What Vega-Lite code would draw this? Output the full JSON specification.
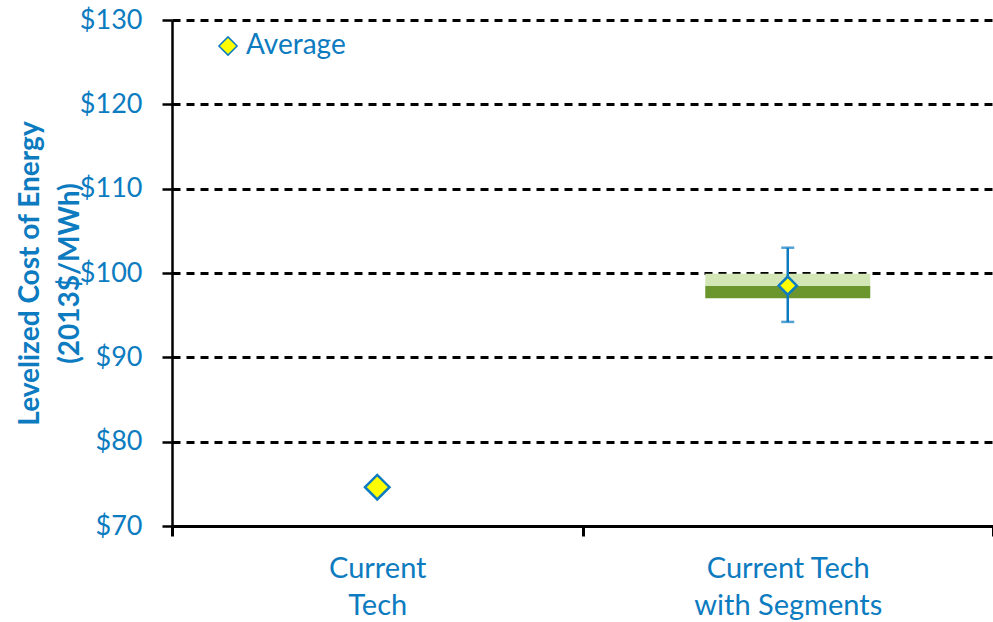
{
  "$schema": "https://vega.github.io/schema/vega-lite/v6.json",
  "width": 821,
  "height": 506,
  "autosize": {"type": "none"},
  "padding": {"left": 172, "top": 20, "right": 0, "bottom": 96},
  "background": "white",
  "config": {
    "view": {"stroke": null},
    "font": "Lato",
    "axis": {"labelFont": "Lato", "titleFont": "Lato"},
    "legend": {"labelFont": "Lato"}
  },
  "datasets": {
    "avg": [
      {"tech": "Current Tech", "value": 74.6, "series": "Average"},
      {"tech": "Current Tech with Segments", "value": 98.5, "series": "Average"}
    ],
    "box": [
      {"tech": "Current Tech with Segments", "low": 97.0, "mid": 98.45, "high": 99.9, "errLow": 94.2, "errHigh": 103.0}
    ]
  },
  "layer": [
    {
      "data": {"name": "box"},
      "mark": {"type": "bar", "color": "#d3e6b5", "width": 165},
      "encoding": {
        "x": {
          "field": "tech", "type": "nominal",
          "scale": {"domain": ["Current Tech", "Current Tech with Segments"], "paddingInner": 0, "paddingOuter": 0},
          "axis": {
            "title": null,
            "labelAngle": 0,
            "labelFontSize": 29,
            "labelColor": "#0c7bc0",
            "labelPadding": 18,
            "labelLineHeight": 37,
            "labelBaseline": "top",
            "labelLimit": 0,
            "labelExpr": "datum.label == 'Current Tech' ? ['Current', 'Tech'] : (datum.label == 'Current Tech with Segments' ? ['Current Tech', 'with Segments'] : '')",
            "domainColor": "black",
            "domainWidth": 3,
            "tickColor": "black",
            "tickWidth": 3,
            "tickSize": 10,
            "tickBand": "extent",
            "grid": false
          }
        },
        "y": {
          "field": "mid", "type": "quantitative",
          "scale": {"domain": [70, 130], "nice": false, "zero": false},
          "axis": {
            "values": [70, 80, 90, 100, 110, 120, 130],
            "format": "$d",
            "labelFontSize": 27,
            "labelColor": "#0c7bc0",
            "labelPadding": 20,
            "domainColor": "black",
            "domainWidth": 2.5,
            "tickColor": "black",
            "tickWidth": 2.5,
            "tickSize": 10,
            "grid": true,
            "gridColor": "black",
            "gridWidth": 3,
            "gridDash": [8, 6],
            "title": ["Levelized Cost of Energy", "(2013$/MWh)"],
            "titleFontSize": 28,
            "titleFontWeight": "bold",
            "titleColor": "#0c7bc0",
            "titleLineHeight": 40,
            "titleAngle": -90,
            "titleBaseline": "middle",
            "titleAlign": "center",
            "titleX": -142,
            "titleY": 253
          }
        },
        "y2": {"field": "high"}
      }
    },
    {
      "data": {"name": "box"},
      "mark": {"type": "bar", "color": "#6b962e", "width": 165},
      "encoding": {
        "x": {"field": "tech", "type": "nominal"},
        "y": {"field": "low", "type": "quantitative"},
        "y2": {"field": "mid"}
      }
    },
    {
      "data": {"name": "box"},
      "mark": {"type": "rule", "color": "#0c7bc0", "strokeWidth": 2.5},
      "encoding": {
        "x": {"field": "tech", "type": "nominal"},
        "y": {"field": "errLow", "type": "quantitative"},
        "y2": {"field": "errHigh"}
      }
    },
    {
      "data": {"name": "box"},
      "mark": {"type": "tick", "color": "#0c7bc0", "thickness": 2.5, "size": 13, "orient": "horizontal"},
      "encoding": {
        "x": {"field": "tech", "type": "nominal"},
        "y": {"field": "errLow", "type": "quantitative"}
      }
    },
    {
      "data": {"name": "box"},
      "mark": {"type": "tick", "color": "#0c7bc0", "thickness": 2.5, "size": 13, "orient": "horizontal"},
      "encoding": {
        "x": {"field": "tech", "type": "nominal"},
        "y": {"field": "errHigh", "type": "quantitative"}
      }
    },
    {
      "data": {"name": "avg"},
      "mark": {"type": "point", "filled": true, "color": "#ffff00", "stroke": "#0c7bc0", "strokeWidth": 2.5, "opacity": 1},
      "encoding": {
        "x": {"field": "tech", "type": "nominal"},
        "y": {"field": "value", "type": "quantitative"},
        "size": {
          "field": "tech", "type": "nominal",
          "scale": {"domain": ["Current Tech", "Current Tech with Segments"], "range": [600, 330]},
          "legend": null
        },
        "shape": {
          "field": "series", "type": "nominal",
          "scale": {"range": ["diamond"]},
          "legend": {
            "title": null,
            "orient": "none",
            "legendX": 42,
            "legendY": 12,
            "symbolType": "diamond",
            "symbolSize": 330,
            "labelFontSize": 28,
            "labelColor": "#0c7bc0",
            "labelOffset": 4
          }
        }
      }
    }
  ]
}
